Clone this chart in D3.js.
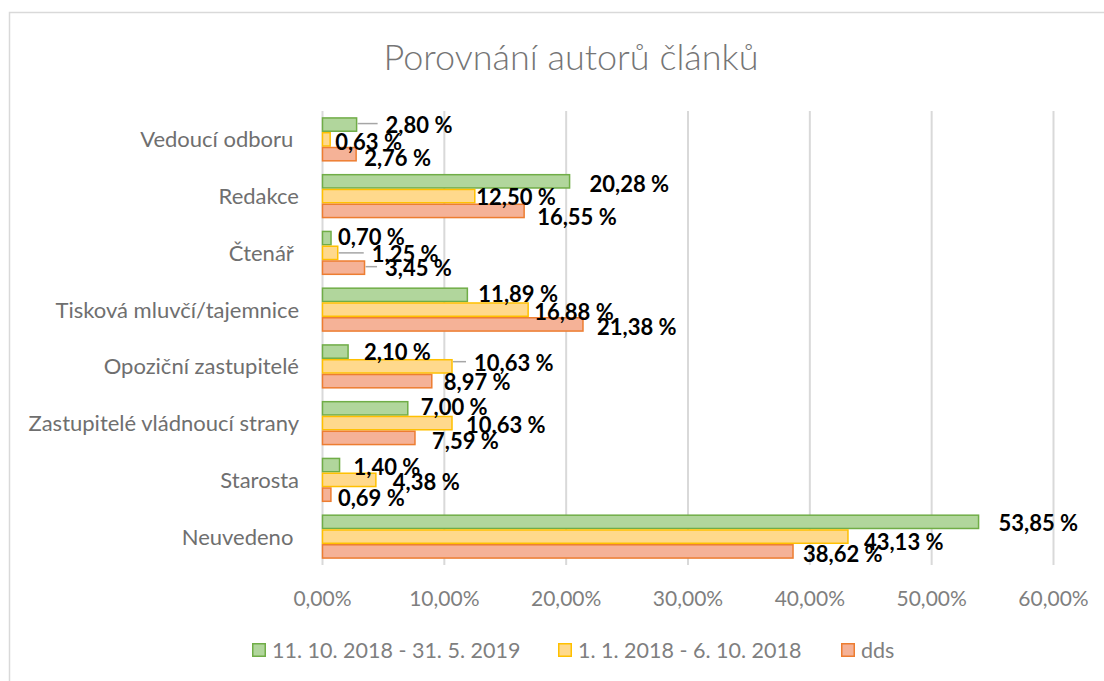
<!DOCTYPE html>
<html>
<head>
<meta charset="utf-8">
<script src="https://cdn.jsdelivr.net/npm/d3@7"></script>
<style>
  body { margin: 0; background: #fff; }
  text { font-family: Lato, "Open Sans", sans-serif; }
</style>
</head>
<body>
<script>
// chart data
var categories = ["Vedoucí odboru ", "Redakce", "Čtenář ", "Tisková mluvčí/tajemnice",
                  "Opoziční zastupitelé", "Zastupitelé vládnoucí strany", "Starosta", "Neuvedeno "];
var seriesNames = ["11. 10. 2018 - 31. 5. 2019", "1. 1. 2018 - 6. 10. 2018", "dds"];
var greenValues  = [2.80, 20.28, 0.70, 11.89, 2.10, 7.00, 1.40, 53.85];
var yellowValues = [0.63, 12.50, 1.25, 16.88, 10.63, 10.63, 4.38, 43.13];
var orangeValues = [2.76, 16.55, 3.45, 21.38, 8.97, 7.59, 0.69, 38.62];
var xTicks = [0, 10, 20, 30, 40, 50, 60];

// hand-placed data label nudges (px from bar end / bar centre), like in the original
var labelDx = [[29, 20, 7, 11, 16, 13, 14, 20],
               [5, 1.5, 34, 6, 22, 14, 17, 16],
               [8, 13, 20.5, 14, 12, 17, 7, 10]];
var labelDy = [[0, 2.5, -1, -1, 0, -1.7, 1.5, 1.5],
               [2.5, 1, 1, 2, -3.7, 1.5, 2, 5],
               [3.7, 6, 0, 3, 0.5, 2.7, 3, 3]];
// which labels get a grey leader line [series, category]
var leaders = [[0, 0], [1, 2], [2, 2], [1, 4]];

var fills   = ["#b1d69c", "#ffd98c", "#f5b297"];
var strokes = ["#70ad47", "#ffc000", "#ed7d31"];

var allValues = [greenValues, yellowValues, orangeValues];

var locale = d3.formatLocale({decimal: ",", thousands: " ", grouping: [3], currency: ["", ""]});
var fmt2 = locale.format(".2f");

var svg = d3.select("body").append("svg")
    .attr("width", 1104)
    .attr("height", 681);

svg.append("rect")
    .attr("width", 1104).attr("height", 681)
    .attr("fill", "#fff");

// chart frame (cut off on the right and bottom in the original)
svg.append("rect")
    .attr("x", 9.5).attr("y", 12.5)
    .attr("width", 1200).attr("height", 800)
    .attr("fill", "none")
    .attr("stroke", "#d9d9d9")
    .attr("stroke-width", 1.5);

var x = d3.scaleLinear().domain([0, 60]).range([322.5, 1053.5]);
var y = d3.scaleBand().domain(categories).range([111, 565])
    .paddingInner(0.218).paddingOuter(0.109);
var ySub = d3.scaleBand().domain([0, 1, 2]).range([0, y.bandwidth()]);

// title
svg.append("text")
    .attr("x", 571).attr("y", 57)
    .attr("dy", "0.36em")
    .attr("text-anchor", "middle")
    .attr("font-size", 36)
    .attr("font-weight", 300)
    .attr("fill", "#757575")
    .text("Porovnání autorů článků");

// gridlines
svg.append("g").selectAll("line")
    .data(xTicks)
    .join("line")
    .attr("x1", function(d) { return x(d); })
    .attr("x2", function(d) { return x(d); })
    .attr("y1", 111).attr("y2", 565)
    .attr("stroke", "#d9d9d9")
    .attr("stroke-width", 2);

// x tick labels
svg.append("g").selectAll("text")
    .data(xTicks)
    .join("text")
    .attr("x", function(d) { return x(d); })
    .attr("y", 598)
    .attr("dy", "0.36em")
    .attr("text-anchor", "middle")
    .attr("font-size", 21)
    .attr("fill", "#7f7f7f")
    .text(function(d) { return fmt2(d) + "%"; });

// category labels
svg.append("g").selectAll("text")
    .data(categories)
    .join("text")
    .attr("x", 299)
    .attr("y", function(d) { return y(d) + y.bandwidth() / 2; })
    .attr("dy", "0.36em")
    .attr("text-anchor", "end")
    .attr("font-size", 22)
    .attr("fill", "#6f6f6f")
    .style("white-space", "pre")
    .text(function(d) { return d; });

// bars
allValues.forEach(function(vals, s) {
    svg.append("g").selectAll("rect")
        .data(vals)
        .join("rect")
        .attr("x", x(0))
        .attr("y", function(d, i) { return y(categories[i]) + ySub(s) + 0.75; })
        .attr("width", function(d) { return x(d) - x(0); })
        .attr("height", ySub.bandwidth() - 1.5)
        .attr("fill", fills[s])
        .attr("stroke", strokes[s])
        .attr("stroke-width", 1.5);
});

function labelY(s, i) {
    return y(categories[i]) + ySub(s) + ySub.bandwidth() / 2 + labelDy[s][i];
}

// leader lines
svg.append("g").selectAll("line")
    .data(leaders)
    .join("line")
    .attr("x1", function(d) { return x(allValues[d[0]][d[1]]) + 1; })
    .attr("x2", function(d) { return x(allValues[d[0]][d[1]]) + labelDx[d[0]][d[1]] - 8; })
    .attr("y1", function(d) { return labelY(d[0], d[1]) - 1; })
    .attr("y2", function(d) { return labelY(d[0], d[1]) - 1; })
    .attr("stroke", "#a6a6a6")
    .attr("stroke-width", 1.5);

// data labels
allValues.forEach(function(vals, s) {
    svg.append("g").selectAll("text")
        .data(vals)
        .join("text")
        .attr("x", function(d, i) { return x(d) + labelDx[s][i]; })
        .attr("y", function(d, i) { return labelY(s, i); })
        .attr("dy", "0.36em")
        .attr("font-size", 22)
        .attr("font-weight", "bold")
        .attr("fill", "#000")
        .text(function(d) { return fmt2(d) + " %"; });
});

// legend
var legendX = [252, 558, 841];
var legend = svg.append("g").selectAll("g")
    .data(seriesNames)
    .join("g")
    .attr("transform", function(d, i) { return "translate(" + legendX[i] + ",650)"; });

legend.append("rect")
    .attr("x", 0.75).attr("y", -6.25)
    .attr("width", 12.5).attr("height", 12.5)
    .attr("fill", function(d, i) { return fills[i]; })
    .attr("stroke", function(d, i) { return strokes[i]; })
    .attr("stroke-width", 1.5);

legend.append("text")
    .attr("x", 20)
    .attr("dy", "0.36em")
    .attr("font-size", 21.5)
    .attr("fill", "#7f7f7f")
    .text(function(d) { return d; });
</script>
</body>
</html>
